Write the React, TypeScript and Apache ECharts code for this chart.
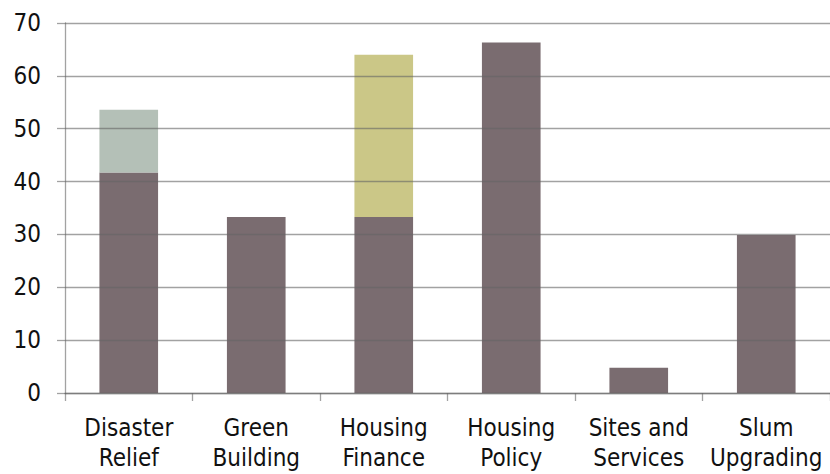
import React, { useEffect, useRef } from "react";
import * as echarts from "echarts";

const categories = [
  "Disaster\nRelief",
  "Green\nBuilding",
  "Housing\nFinance",
  "Housing\nPolicy",
  "Sites and\nServices",
  "Slum\nUpgrading",
];
const baseValues = [41.7, 33.3, 33.3, 66.3, 4.8, 29.9];
const greyTopValues = [11.9, null, null, null, null, null];
const yellowTopValues = [null, null, 30.7, null, null, null];
const yTicks = { min: 0, max: 70, interval: 10 };

const FONT = "'DejaVu Sans Condensed', 'DejaVu Sans', sans-serif";

export default function App() {
  const ref = useRef<HTMLDivElement>(null);
  useEffect(() => {
    if (!ref.current) return;
    const chart = echarts.init(ref.current, undefined, { renderer: "svg" });
    const gridColor = "rgba(100,100,100,0.6)";
    chart.setOption({
      animation: false,
      backgroundColor: "#ffffff",
      grid: { left: 65, top: 23, right: 0, bottom: 81, containLabel: false },
      xAxis: {
        type: "category",
        data: categories,
        z: 3,
        axisLine: { show: true, lineStyle: { color: gridColor, width: 1.3 } },
        axisTick: { show: true, length: 8, alignWithLabel: false, lineStyle: { color: gridColor, width: 1.3 } },
        axisLabel: {
          color: "#111",
          fontFamily: FONT,
          fontSize: 24,
          lineHeight: 30,
          margin: 20,
          interval: 0,
        },
      },
      yAxis: {
        type: "value",
        min: yTicks.min,
        max: yTicks.max,
        interval: yTicks.interval,
        z: 3,
        axisLine: { show: true, lineStyle: { color: gridColor, width: 1.3 } },
        axisTick: { show: true, length: 8, lineStyle: { color: gridColor, width: 1.3 } },
        splitLine: { show: true, lineStyle: { color: gridColor, width: 1.3 } },
        axisLabel: { color: "#111", fontFamily: FONT, fontSize: 24, margin: 24 },
      },
      series: [
        {
          type: "bar",
          stack: "s",
          data: baseValues,
          barWidth: "46%",
          itemStyle: { color: "#7a6c70" },
        },
        {
          type: "bar",
          stack: "s",
          data: greyTopValues,
          itemStyle: { color: "#b4c0b7" },
        },
        {
          type: "bar",
          stack: "s",
          data: yellowTopValues,
          itemStyle: { color: "#cbc787" },
        },
      ],
    });
    return () => chart.dispose();
  }, []);
  return <div ref={ref} style={{ width: 830, height: 474, position: "absolute", left: 0, top: 0 }} />;
}
